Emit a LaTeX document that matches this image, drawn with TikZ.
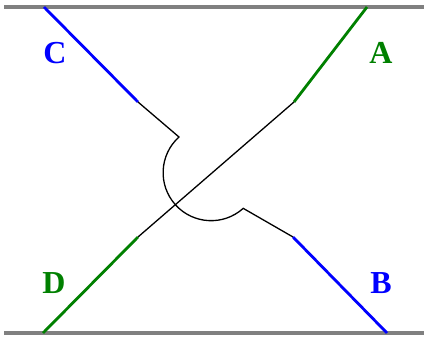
\documentclass[tikz,border=0pt]{standalone}
\usepackage{fontspec}
\setmainfont{Liberation Serif}
\usepackage{tikz}
\usetikzlibrary{calc}

\definecolor{railgray}{RGB}{128,128,128}
\definecolor{leadblue}{RGB}{0,0,255}
\definecolor{leadgreen}{RGB}{0,128,0}

\begin{document}
\begin{tikzpicture}[x=1pt, y=1pt,
    rail/.style={line width=3.2pt, railgray},
    bluelead/.style={line width=2.8pt, leadblue},
    greenlead/.style={line width=2.8pt, leadgreen},
    wire/.style={line width=1.3pt, black},
    tag/.style={font=\fontsize{32}{34}\selectfont\bfseries, inner sep=0pt}]
  \useasboundingbox (0,0) rectangle (424,341);

  % Top and bottom rails
  \coordinate (top_l) at (4,334);
  \coordinate (top_r) at (424,334);
  \coordinate (bot_l) at (4,8);
  \coordinate (bot_r) at (424,8);
  \draw[rail] (top_l) -- (top_r);
  \draw[rail] (bot_l) -- (bot_r);

  % Straight lead A -- D
  \coordinate (a_end) at (367,334);
  \coordinate (a_knee) at (294,239);
  \coordinate (d_knee) at (138,104);
  \coordinate (d_end) at (43,8);
  \draw[greenlead] (a_end) -- (a_knee);
  \draw[wire] (a_knee) -- (d_knee);
  \draw[greenlead] (d_knee) -- (d_end);

  % Lead C -- B, hopping over A--D
  \coordinate (c_end) at (44,334);
  \coordinate (c_knee) at (138,239);
  \coordinate (hop_in) at (179,204);
  \coordinate (hop_out) at (243,133);
  \coordinate (b_knee) at (293,104);
  \coordinate (b_end) at (387,8);
  \draw[bluelead] (c_end) -- (c_knee);
  \draw[wire] (c_knee) -- (hop_in) arc[start angle=132, end angle=312, radius=48] -- (b_knee);
  \draw[bluelead] (b_knee) -- (b_end);

  % Labels
  \node[tag, leadblue] (lab_c) at (55,288) {C};
  \node[tag, leadgreen] (lab_a) at (381,288) {A};
  \node[tag, leadgreen] (lab_d) at (54,58) {D};
  \node[tag, leadblue] (lab_b) at (381,58) {B};
\end{tikzpicture}
\end{document}
